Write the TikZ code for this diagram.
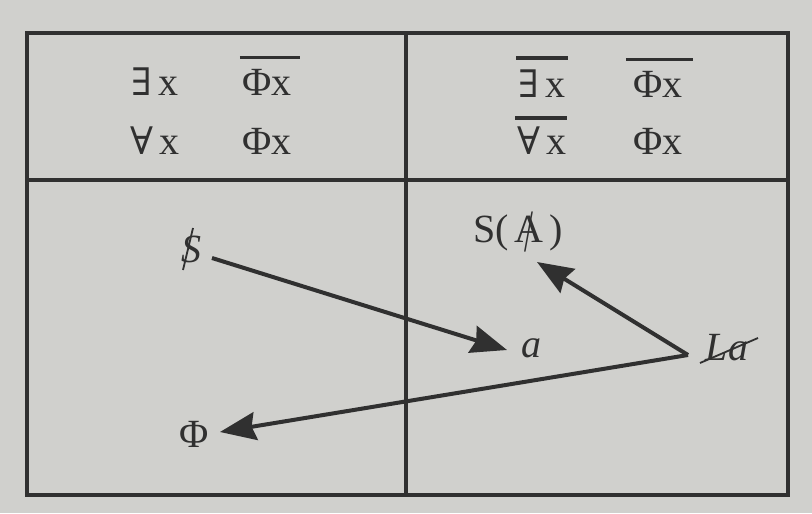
\documentclass[tikz,border=0pt]{standalone}
\usepackage{fontspec}
\setmainfont{Liberation Serif}
\newfontfamily\qfont{DejaVu Serif}
\usetikzlibrary{arrows.meta}
\definecolor{bg}{RGB}{208,208,205}
\definecolor{ink}{RGB}{48,48,48}
\tikzset{
  grid/.style={draw=ink,line width=2.2pt},
  lbl/.style={inner sep=0pt,anchor=base,text=ink,font=\fontsize{20}{24}\selectfont},
  arr/.style={draw=ink,line width=2pt,-{Stealth[length=18pt,width=14pt,inset=2pt]}},
  bar/.style={draw=ink,line width=1.8pt},
  slash/.style={draw=ink,line width=0.9pt},
}
\newcommand{\qex}{{\qfont\fontsize{19}{24}\selectfont ∃}}
\newcommand{\qall}{{\qfont\fontsize{19}{24}\selectfont ∀}}
\begin{document}
\begin{tikzpicture}[x=0.5pt,y=-0.5pt]
\fill[bg] (0,0) rectangle (812,513);
\useasboundingbox (0,0) rectangle (812,513);
% table
\draw[grid] (27,33) rectangle (788,495);
\draw[grid] (406,33) -- (406,495);
\draw[grid] (27,180) -- (788,180);
% upper left
\node[lbl] (e1) at (155,96) {\qex\kern3pt x};
\node[lbl] (p1) at (267,96) {Φx};
\node[lbl] (f1) at (155,155) {\qall\kern3pt x};
\node[lbl] (q1) at (267,155) {Φx};
\draw[bar] ([xshift=-1pt,yshift=6pt]p1.north west) -- ([xshift=4pt,yshift=6pt]p1.north east);
% upper right
\node[lbl] (e2) at (542,98) {\qex\kern3pt x};
\node[lbl] (p2) at (658,98) {Φx};
\node[lbl] (f2) at (542,155) {\qall\kern3pt x};
\node[lbl] (q2) at (658,155) {Φx};
\draw[bar] ([xshift=-1pt,yshift=6pt]e2.north west) -- ([xshift=1pt,yshift=6pt]e2.north east);
\draw[bar] ([xshift=-3.5pt,yshift=6pt]p2.north west) -- ([xshift=5pt,yshift=6pt]p2.north east);
\draw[bar] ([xshift=-1pt,yshift=4.5pt]f2.north west) -- ([xshift=0pt,yshift=4.5pt]f2.north east);
% lower part
\node[lbl] (s) at (191,262) {\itshape S};
\draw[slash] ([xshift=1pt,yshift=17pt]s.base) -- ([xshift=-4pt,yshift=-4pt]s.base);
\node[lbl] (SA) at (518,242) {S(\kern3pt\ooalign{A\cr\hidewidth\raisebox{-0.23em}{\scalebox{0.8}[1.5]{/}}\hidewidth}\kern3pt)};
\node[lbl] (a) at (531,357) {\itshape a};
\node[lbl] (La) at (727,360) {\itshape La};
\draw[slash] ([xshift=-13.5pt,yshift=-1.5pt]La.base) -- ([xshift=15.5pt,yshift=11pt]La.base);
\node[lbl] (Phi) at (194,447) {Φ};
\coordinate (v) at ([xshift=-19.5pt,yshift=2.5pt]La.base);
% arrows
\draw[arr] ([xshift=10.5pt,yshift=2pt]s.base) -- ([xshift=-12pt,yshift=3.5pt]a.base);
\draw[arr] (v) -- ([xshift=9.5pt,yshift=-10pt]SA.base);
\draw[arr] (v) -- ([xshift=13pt,yshift=7.5pt]Phi.base);
\end{tikzpicture}
\end{document}
